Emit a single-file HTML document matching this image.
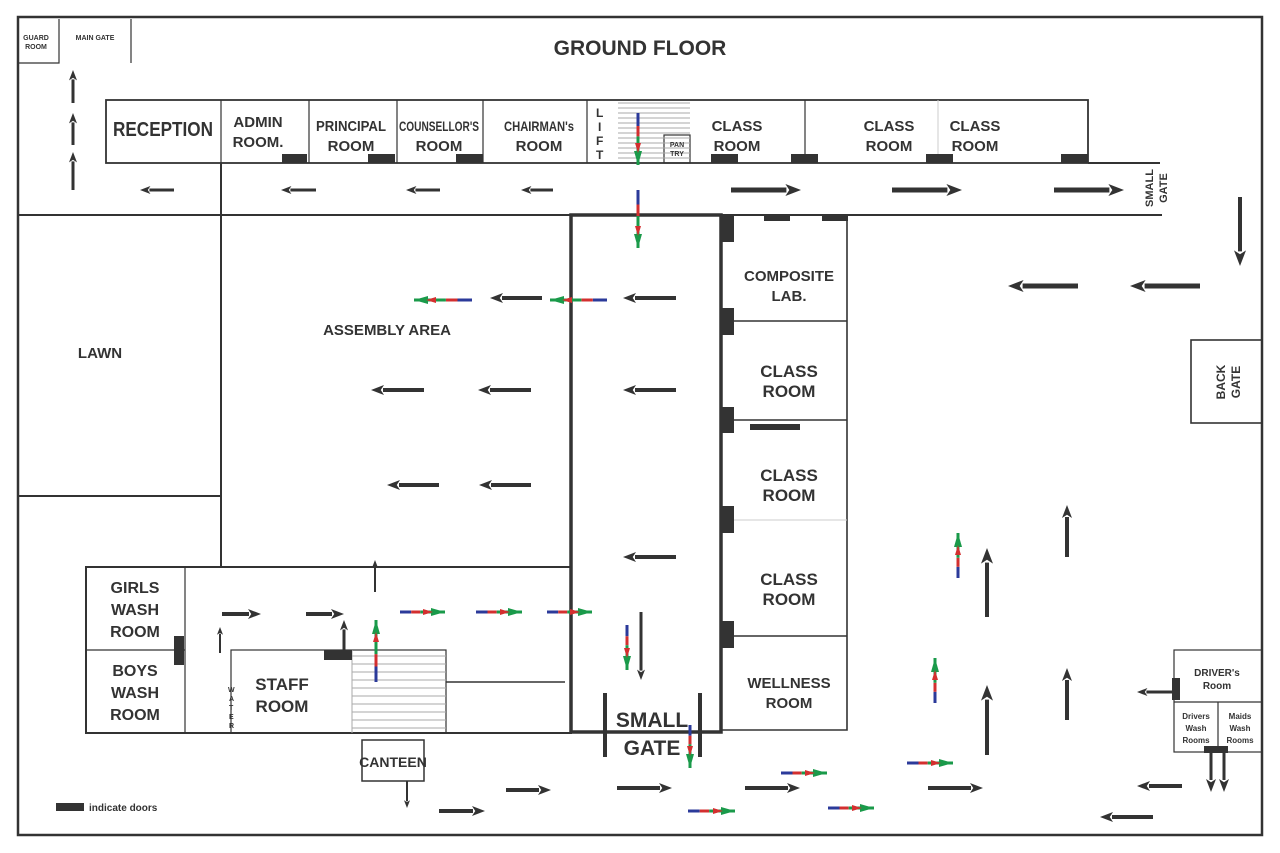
<!DOCTYPE html>
<html><head><meta charset="utf-8"><style>
html,body{margin:0;padding:0;background:#fff}
svg{display:block}
text{font-family:"Liberation Sans",Arial,sans-serif;fill:#333;font-weight:bold}
.n text{font-family:"Liberation Sans Narrow","Liberation Sans",Arial,sans-serif;font-stretch:condensed}
</style></head><body>
<svg id="s" width="1280" height="853" viewBox="0 0 1280 853" xmlns="http://www.w3.org/2000/svg">
<rect x="0" y="0" width="1280" height="853" fill="#fff"/>
<g stroke="#333" fill="none">
<rect x="18" y="17" width="1244" height="818" stroke-width="2.5"/>
<path d="M19 63H59V19M59 63V19M131 19V63" stroke-width="1.2"/>
<rect x="106" y="100" width="982" height="63" stroke-width="1.8"/>
<path d="M221 100V163M309 100V163M397 100V163M483 100V163M587 100V163M805 100V163" stroke-width="1.2"/>
<path d="M938 100V163" stroke="#ccc" stroke-width="1"/>
<rect x="664" y="135" width="26" height="28" stroke-width="1.2"/>
<path d="M1088 163H1160M18 215H1162M221 163V567M18 496H221" stroke-width="2"/>
<rect x="571" y="215" width="150" height="517" stroke-width="3.5"/>
<path d="M721 215H847V730H721M721 321H847M721 420H847M721 636H847" stroke-width="1.6"/>
<path d="M721 520H847" stroke="#ccc" stroke-width="1"/>
<rect x="1191" y="340" width="71" height="83" stroke-width="1.6"/>
<rect x="86" y="567" width="485" height="166" stroke-width="2"/>
<path d="M86 650H185M185 567V733" stroke-width="1.2"/>
<rect x="231" y="650" width="215" height="83" stroke-width="1.2"/>
<path d="M446 682H565" stroke-width="1.5"/>
<path d="M605 693V757M700 693V757" stroke-width="4"/>
<rect x="362" y="740" width="62" height="41" stroke-width="1.5"/>
<rect x="1174" y="650" width="88" height="102" stroke-width="1.2"/>
<path d="M1174 702H1262M1218 702V752" stroke-width="1.2"/>
</g>
<g stroke="#aaa" stroke-width="1" id="stairs"></g>
<g fill="#333">
<rect x="282" y="154" width="25" height="9"/><rect x="368" y="154" width="27" height="9"/><rect x="456" y="154" width="27" height="9"/>
<rect x="711" y="154" width="27" height="9"/><rect x="791" y="154" width="27" height="9"/><rect x="926" y="154" width="27" height="9"/><rect x="1061" y="154" width="27" height="9"/>
<rect x="764" y="215" width="26" height="6"/><rect x="822" y="215" width="26" height="6"/>
<rect x="720" y="215" width="14" height="27"/><rect x="720" y="308" width="14" height="27"/><rect x="720" y="407" width="14" height="26"/><rect x="720" y="506" width="14" height="27"/><rect x="720" y="621" width="14" height="27"/>
<rect x="750" y="424" width="50" height="6"/>
<rect x="324" y="650" width="28" height="10"/>
<rect x="174" y="636" width="10" height="29"/>
<rect x="1172" y="678" width="8" height="22"/>
<rect x="1204" y="746" width="24" height="7"/>
<rect x="56" y="803" width="28" height="8"/>
</g>
<text x="640" y="55" text-anchor="middle" font-size="21">GROUND FLOOR</text>
<g class="n">
<text x="36" y="40" text-anchor="middle" font-size="7">GUARD</text><text x="36" y="49" text-anchor="middle" font-size="7">ROOM</text>
<text x="95" y="40" text-anchor="middle" font-size="7">MAIN GATE</text>
<text x="163" y="136" text-anchor="middle" font-size="20" textLength="100" lengthAdjust="spacingAndGlyphs">RECEPTION</text>
<text x="258" y="127" text-anchor="middle" font-size="15">ADMIN</text><text x="258" y="147" text-anchor="middle" font-size="15">ROOM.</text>
<text x="351" y="131" text-anchor="middle" font-size="15" textLength="70" lengthAdjust="spacingAndGlyphs">PRINCIPAL</text><text x="351" y="151" text-anchor="middle" font-size="15">ROOM</text>
<text x="439" y="131" text-anchor="middle" font-size="14" textLength="80" lengthAdjust="spacingAndGlyphs">COUNSELLOR'S</text><text x="439" y="151" text-anchor="middle" font-size="15">ROOM</text>
<text x="539" y="131" text-anchor="middle" font-size="14" textLength="70" lengthAdjust="spacingAndGlyphs">CHAIRMAN's</text><text x="539" y="151" text-anchor="middle" font-size="15">ROOM</text>
<text x="737" y="131" text-anchor="middle" font-size="15">CLASS</text><text x="737" y="151" text-anchor="middle" font-size="15">ROOM</text>
<text x="889" y="131" text-anchor="middle" font-size="15">CLASS</text><text x="889" y="151" text-anchor="middle" font-size="15">ROOM</text>
<text x="975" y="131" text-anchor="middle" font-size="15">CLASS</text><text x="975" y="151" text-anchor="middle" font-size="15">ROOM</text>
<text x="677" y="147" text-anchor="middle" font-size="7" font-weight="normal">PAN</text><text x="677" y="156" text-anchor="middle" font-size="7" font-weight="normal">TRY</text>
<text x="100" y="358" text-anchor="middle" font-size="15">LAWN</text>
<text x="387" y="335" text-anchor="middle" font-size="15">ASSEMBLY AREA</text>
<text x="135" y="593" text-anchor="middle" font-size="16">GIRLS</text><text x="135" y="615" text-anchor="middle" font-size="16">WASH</text><text x="135" y="637" text-anchor="middle" font-size="16">ROOM</text>
<text x="135" y="676" text-anchor="middle" font-size="16">BOYS</text><text x="135" y="698" text-anchor="middle" font-size="16">WASH</text><text x="135" y="720" text-anchor="middle" font-size="16">ROOM</text>
<text x="282" y="690" text-anchor="middle" font-size="17">STAFF</text><text x="282" y="712" text-anchor="middle" font-size="17">ROOM</text>
<text x="393" y="767" text-anchor="middle" font-size="14">CANTEEN</text>
<text x="652" y="727" text-anchor="middle" font-size="21">SMALL</text><text x="652" y="755" text-anchor="middle" font-size="21">GATE</text>
<text x="1217" y="676" text-anchor="middle" font-size="10">DRIVER's</text><text x="1217" y="689" text-anchor="middle" font-size="10" font-weight="normal">Room</text>
<text x="1196" y="719" text-anchor="middle" font-size="8" font-weight="normal">Drivers</text><text x="1196" y="731" text-anchor="middle" font-size="8" font-weight="normal">Wash</text><text x="1196" y="743" text-anchor="middle" font-size="8" font-weight="normal">Rooms</text>
<text x="1240" y="719" text-anchor="middle" font-size="8" font-weight="normal">Maids</text><text x="1240" y="731" text-anchor="middle" font-size="8" font-weight="normal">Wash</text><text x="1240" y="743" text-anchor="middle" font-size="8" font-weight="normal">Rooms</text>
</g>
<g font-size="7"><text x="228" y="692" font-size="7">W</text><text x="229" y="701" font-size="7">A</text><text x="229" y="710" font-size="7">T</text><text x="229" y="719" font-size="7">E</text><text x="229" y="728" font-size="7">R</text></g>
<g font-size="12"><text x="596" y="117" font-size="12">L</text><text x="598" y="131" font-size="12">I</text><text x="596" y="145" font-size="12">F</text><text x="596" y="159" font-size="12">T</text></g>
<text x="789" y="281" text-anchor="middle" font-size="15">COMPOSITE</text><text x="789" y="301" text-anchor="middle" font-size="15">LAB.</text>
<text x="789" y="377" text-anchor="middle" font-size="17">CLASS</text><text x="789" y="397" text-anchor="middle" font-size="17">ROOM</text>
<text x="789" y="481" text-anchor="middle" font-size="17">CLASS</text><text x="789" y="501" text-anchor="middle" font-size="17">ROOM</text>
<text x="789" y="585" text-anchor="middle" font-size="17">CLASS</text><text x="789" y="605" text-anchor="middle" font-size="17">ROOM</text>
<text x="789" y="688" text-anchor="middle" font-size="15">WELLNESS</text><text x="789" y="708" text-anchor="middle" font-size="15">ROOM</text>
<text transform="translate(1153,188) rotate(-90)" text-anchor="middle" font-size="11">SMALL</text>
<text transform="translate(1167,188) rotate(-90)" text-anchor="middle" font-size="11">GATE</text>
<text transform="translate(1225,382) rotate(-90)" text-anchor="middle" font-size="12">BACK</text>
<text transform="translate(1240,382) rotate(-90)" text-anchor="middle" font-size="12">GATE</text>
<text x="89" y="811" font-size="10">indicate doors</text>
<g id="ar"></g>
</svg>
<script>
var NS="http://www.w3.org/2000/svg",g=document.getElementById("ar"),st=document.getElementById("stairs");
function el(t,a,p){var e=document.createElementNS(NS,t);for(var k in a)e.setAttribute(k,a[k]);(p||g).appendChild(e);return e;}
for(var y=103;y<163;y+=5)el("line",{x1:618,x2:690,y1:y,y2:y},st);
for(var y=656;y<733;y+=8)el("line",{x1:352,x2:446,y1:y,y2:y},st);
el("line",{x1:352,x2:352,y1:650,y2:733},st);
function A(x1,y1,x2,y2,w,h){w=w||4;h=h||6;var dx=x2-x1,dy=y2-y1,L=Math.hypot(dx,dy),ux=dx/L,uy=dy/L,hl=Math.min(L*0.45,h*2.6);
var bx=x2-ux*hl,by=y2-uy*hl,px=-uy,py=ux;
el("line",{x1:x1,y1:y1,x2:bx+ux,y2:by+uy,stroke:"#333","stroke-width":w});
el("polygon",{points:[x2,y2,bx+px*h,by+py*h,bx+ux*hl*0.25,by+uy*hl*0.25,bx-px*h,by-py*h].join(" "),fill:"#333"});}
function C(x1,y1,x2,y2){var dx=x2-x1,dy=y2-y1,L=Math.hypot(dx,dy),ux=dx/L,uy=dy/L,px=-uy,py=ux;
var segs=[["#2b3a9a",0,.25],["#d32f2f",.25,.45],["#1a9a4a",.45,1]];
segs.forEach(function(s){el("line",{x1:x1+dx*s[1],y1:y1+dy*s[1],x2:x1+dx*s[2],y2:y1+dy*s[2],stroke:s[0],"stroke-width":3});});
var bx=x2-ux*14,by=y2-uy*14;el("polygon",{points:[x2,y2,bx+px*4,by+py*4,bx-px*4,by-py*4].join(" "),fill:"#1a9a4a"});
var cx=x2-ux*22,cy=y2-uy*22;el("polygon",{points:[cx+ux*10,cy+uy*10,cx+px*3,cy+py*3,cx-px*3,cy-py*3].join(" "),fill:"#d32f2f"});}
[[174,140],[316,281],[440,406],[553,521]].forEach(function(a){A(a[0],190,a[1],190,3,4);});
[[731,801],[892,962],[1054,1124]].forEach(function(a){A(a[0],190,a[1],190,5,6);});
A(73,103,73,70,3,4);A(73,145,73,113,3,4);A(73,190,73,152,3,4);
A(1240,197,1240,266,4,6);
A(1078,286,1008,286,5,6);A(1200,286,1130,286,5,6);
[[542,490],[676,623]].forEach(function(a){A(a[0],298,a[1],298,4,5);});
[[424,371],[531,478],[676,623]].forEach(function(a){A(a[0],390,a[1],390,4,5);});
[[439,387],[531,479]].forEach(function(a){A(a[0],485,a[1],485,4,5);});
A(676,557,623,557,4,5);
A(375,592,375,560,2,3);
A(222,614,261,614,4,5);A(306,614,344,614,4,5);
A(220,653,220,627,2,3);A(344,650,344,620,3,4);
A(641,612,641,680,3,4);
A(407,781,407,808,2,3);
A(439,811,485,811,4,5);A(506,790,551,790,4,5);A(617,788,672,788,4,5);A(745,788,800,788,4,5);A(928,788,983,788,4,5);
A(987,617,987,548,4,6);A(987,755,987,685,4,6);A(1067,557,1067,505,4,5);A(1067,720,1067,668,4,5);
A(1172,692,1137,692,3,4);A(1182,786,1137,786,4,5);A(1153,817,1100,817,4,5);
A(1211,752,1211,792,3,5);A(1224,752,1224,792,3,5);
C(472,300,414,300);C(607,300,550,300);
C(400,612,445,612);C(476,612,522,612);C(547,612,592,612);
C(376,682,376,620);C(627,625,627,670);
C(638,113,638,165);C(638,190,638,248);C(690,725,690,768);
C(958,578,958,533);C(935,703,935,658);
C(688,811,735,811);C(781,773,827,773);C(828,808,874,808);C(907,763,953,763);
</script>
</body></html>
